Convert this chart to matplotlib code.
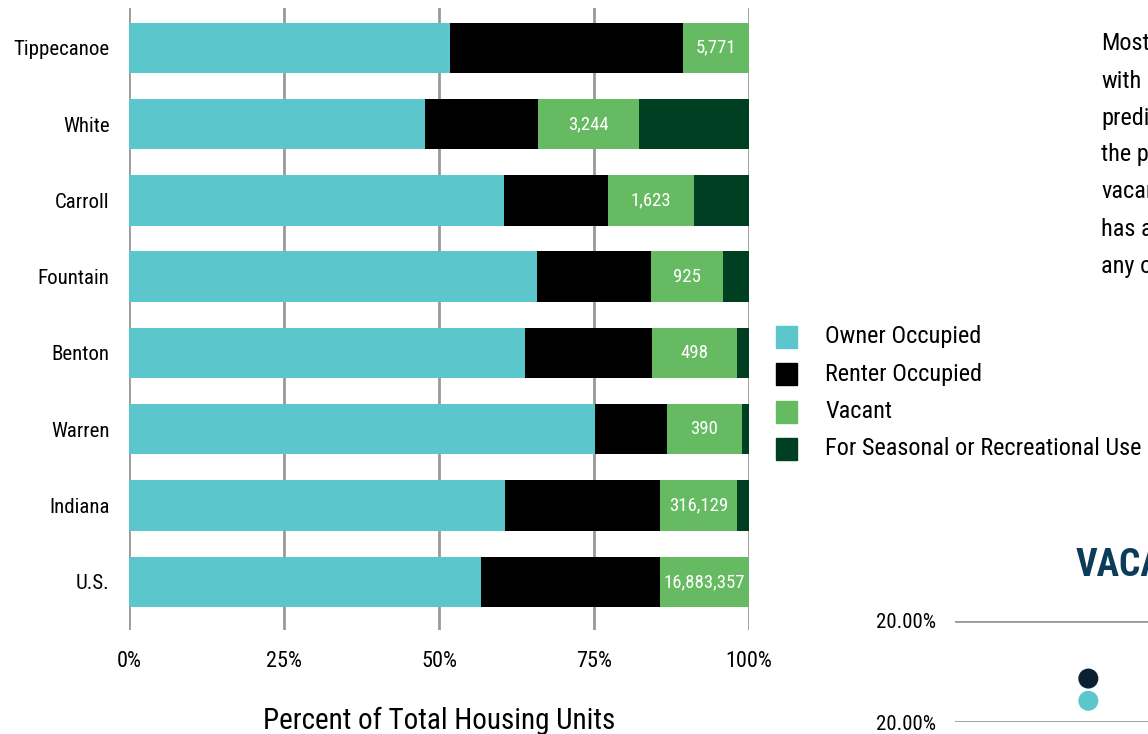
import numpy as np
import matplotlib.pyplot as plt
from matplotlib.patches import Rectangle

# housing occupancy shares (% of total units) by area
areas = ["Tippecanoe", "White", "Carroll", "Fountain", "Benton", "Warren", "Indiana", "U.S."]
owner = [51.7, 47.8, 60.5, 65.8, 63.8, 75.1, 60.6, 56.8]
renter = [37.6, 18.1, 16.8, 18.4, 20.6, 11.6, 25.1, 28.8]
vacant = [10.7, 16.3, 13.8, 11.6, 13.6, 12.2, 12.3, 14.4]
seasonal = [0.0, 17.8, 8.9, 4.2, 2.0, 1.1, 2.0, 0.0]
vacant_units = ["5,771", "3,244", "1,623", "925", "498", "390", "316,129", "16,883,357"]

series_names = ["Owner Occupied", "Renter Occupied", "Vacant", "For Seasonal or Recreational Use"]
colors = ["#5bc6cc", "#000000", "#66bb62", "#003f22"]

# vacancy rate panel
rate_ticks = [0.0, 1.0]
rate_tick_labels = ["20.00%", "20.00%"]
rate_dots = [0.43, 0.21]
dot_colors = ["#0b1f33", "#5bc6cc"]

FONT = ["Roboto Condensed", "DejaVu Sans"]
plt.rcParams["font.family"] = FONT

W, H = 1148, 734
fig = plt.figure(figsize=(W / 100, H / 100), dpi=100)


def fx(px):
    return px / W


def fy(py):
    return 1 - py / H


ax = fig.add_axes([fx(129), fy(630), fx(749 - 129), (630 - 8) / H])
y = np.arange(len(areas))
left = np.zeros(len(areas))
for vals, name, c in zip([owner, renter, vacant, seasonal], series_names, colors):
    ax.barh(y, vals, left=left, height=0.66, color=c, label=name, zorder=2)
    left += np.array(vals)

# vacant unit counts centered in the green segment
for i, lab in enumerate(vacant_units):
    xc = owner[i] + renter[i] + vacant[i] / 2
    ax.text(xc, y[i], lab, color="white", ha="center", va="center", fontsize=13.5)

ax.set_xlim(0, 100)
ax.set_ylim(len(areas) - 0.37, -0.52)
ax.set_xticks([0, 25, 50, 75, 100])
ax.set_xticklabels(["0%", "25%", "50%", "75%", "100%"], fontsize=16)
ax.set_yticks(y)
ax.set_yticklabels(areas, fontsize=15)
ax.tick_params(length=0, pad=15)
ax.tick_params(axis="y", pad=14)
ax.grid(axis="x", color="#999999", linewidth=2, zorder=0)
for s in ax.spines.values():
    s.set_visible(False)
ax.set_xlabel("Percent of Total Housing Units", fontsize=21, labelpad=25)

# legend drawn as squares and labels in figure space
for i, (name, c) in enumerate(zip(series_names, colors)):
    yy = 337 + i * 37.3
    fig.patches.append(Rectangle((fx(776), fy(yy + 11)), fx(21), 22 / H, color=c,
                                 transform=fig.transFigure, figure=fig))
    fig.text(fx(825), fy(yy), name, fontsize=17.5, va="center", ha="left")

# side note (runs past the right edge)
note_lines = ["Most", "with", "predi", "the p", "vacan", "has a", "any o"]
for i, line in enumerate(note_lines):
    fig.text(fx(1101), fy(44 + i * 37), line, fontsize=17.5, va="center", ha="left")

fig.text(fx(1076), fy(565), "VACA", fontsize=27, fontweight="bold",
         color="#0b3d5b", va="center", ha="left")

ax2 = fig.add_axes([fx(955), fy(722), fx(400), (722 - 621) / H])
for t in rate_ticks:
    ax2.axhline(t, color="#999999", linewidth=2, zorder=0)
ax2.scatter([0.7, 0.7], rate_dots, s=180, color=dot_colors, zorder=3, clip_on=False)
ax2.set_xlim(0, 2.1)
ax2.set_ylim(0, 1)
ax2.set_xticks([])
ax2.set_yticks(rate_ticks)
ax2.set_yticklabels(rate_tick_labels, fontsize=15)
ax2.tick_params(length=0, pad=14)
for s in ax2.spines.values():
    s.set_visible(False)

fig.savefig("out.png", dpi=100)
